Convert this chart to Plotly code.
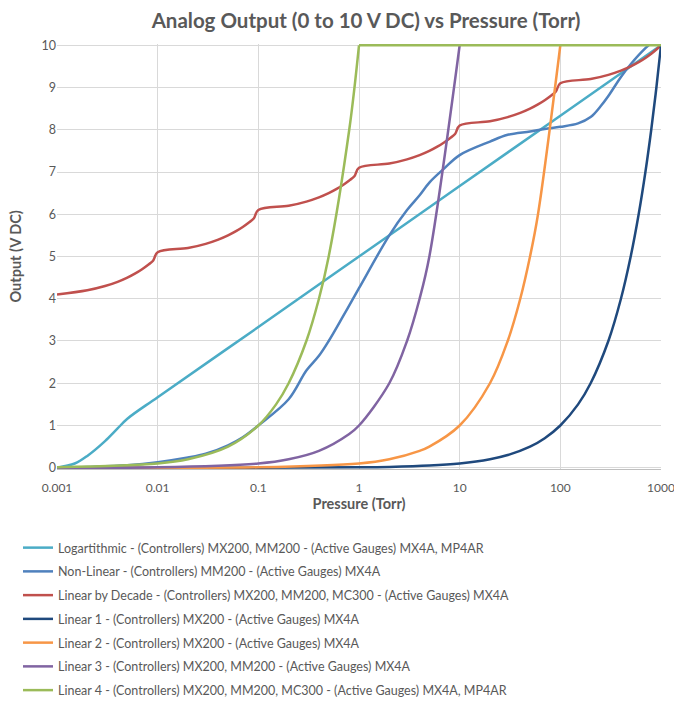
import plotly.graph_objects as go

# ---------------- data ----------------
log_p = [0.001, 0.0015, 0.002, 0.003, 0.004, 0.005, 0.01, 0.1, 1, 10, 100, 1000]
log_v = [0, 0.1, 0.28, 0.63, 0.93, 1.16, 1.67, 3.33, 5.0, 6.67, 8.33, 10]

nl_p = [0.001, 0.002, 0.005, 0.01, 0.02, 0.03, 0.05, 0.07, 0.1, 0.2, 0.3, 0.4, 0.5, 0.7,
        1, 2, 3, 4, 5, 7, 10, 20, 30, 50, 70, 100, 150, 200, 250, 300, 400, 500, 700, 1000]
nl_v = [0, 0.02, 0.06, 0.13, 0.24, 0.33, 0.53, 0.72, 1.0, 1.62, 2.3, 2.65, 3.0, 3.6,
        4.25, 5.5, 6.1, 6.45, 6.75, 7.08, 7.4, 7.72, 7.88, 7.96, 8.02, 8.07, 8.15, 8.3, 8.55,
        8.8, 9.25, 9.55, 9.93, 10.25]

lbd_p = [0.001, 0.002, 0.003, 0.004, 0.005, 0.006, 0.007, 0.008, 0.009,
         0.01, 0.02, 0.03, 0.04, 0.05, 0.06, 0.07, 0.08, 0.09,
         0.1, 0.2, 0.3, 0.4, 0.5, 0.6, 0.7, 0.8, 0.9,
         1, 2, 3, 4, 5, 6, 7, 8, 9,
         10, 20, 30, 40, 50, 60, 70, 80, 90,
         100, 200, 300, 400, 500, 600, 700, 800, 900, 1000]
lbd_v = [4.1, 4.2, 4.3, 4.4, 4.5, 4.6, 4.7, 4.8, 4.9,
         5.1, 5.2, 5.3, 5.4, 5.5, 5.6, 5.7, 5.8, 5.9,
         6.1, 6.2, 6.3, 6.4, 6.5, 6.6, 6.7, 6.8, 6.9,
         7.1, 7.2, 7.3, 7.4, 7.5, 7.6, 7.7, 7.8, 7.9,
         8.1, 8.2, 8.3, 8.4, 8.5, 8.6, 8.7, 8.8, 8.9,
         9.1, 9.2, 9.3, 9.4, 9.5, 9.6, 9.7, 9.8, 9.9, 10]

l1_p = [0.001, 0.01, 0.1, 1, 2, 5, 10, 20, 30, 50, 70, 100, 150, 200, 300, 400, 500,
        600, 700, 800, 900, 1000]
l1_v = [0.00001, 0.0001, 0.001, 0.01, 0.02, 0.05, 0.1, 0.2, 0.3, 0.5, 0.7, 1.0, 1.5, 2, 3, 4, 5,
        6, 7, 8, 9, 10]

l2_p = [0.001, 0.01, 0.1, 1, 2, 4, 5, 10, 20, 30, 40, 50, 60, 100]
l2_v = [0.0001, 0.001, 0.01, 0.1, 0.2, 0.4, 0.5, 1, 2, 3, 4, 5, 6, 10]

l3_p = [0.001, 0.01, 0.1, 0.2, 0.4, 0.8, 1, 2, 3, 4, 5, 10]
l3_v = [0.001, 0.01, 0.1, 0.2, 0.4, 0.8, 1, 2, 3, 4, 5, 10]

l4_p = [0.001, 0.01, 0.02, 0.05, 0.1, 0.15, 0.2, 0.3, 0.4, 0.5, 0.8, 1]
l4_v = [0.01, 0.1, 0.2, 0.5, 1, 1.5, 2, 3, 4, 5, 8, 10]
l4_flat_p = [1, 10, 100, 1000]
l4_flat_v = [10, 10, 10, 10]

names = [
    "Logartithmic - (Controllers) MX200, MM200 - (Active Gauges) MX4A, MP4AR",
    "Non-Linear - (Controllers) MM200 - (Active Gauges) MX4A",
    "Linear by Decade - (Controllers) MX200, MM200, MC300 - (Active Gauges) MX4A",
    "Linear 1 - (Controllers) MX200 - (Active Gauges) MX4A",
    "Linear 2 - (Controllers) MX200 - (Active Gauges) MX4A",
    "Linear 3 - (Controllers) MX200, MM200 - (Active Gauges) MX4A",
    "Linear 4 - (Controllers) MX200, MM200, MC300 - (Active Gauges) MX4A, MP4AR",
]
colors = ["#4BACC6", "#4F81BD", "#C0504D", "#1F497D", "#F79646", "#8064A2", "#9BBB59"]

x_ticks = [0.001, 0.01, 0.1, 1, 10, 100, 1000]
x_ticktext = ["0.001", "0.01", "0.1", "1", "10", "100", "1000"]

# ---------------- figure ----------------
FONT = "Lato"
GREY = "#595959"
W, H = 674, 692   # page body has an 8px margin on each side

series = [(log_p, log_v), (nl_p, nl_v), (lbd_p, lbd_v), (l1_p, l1_v),
          (l2_p, l2_v), (l3_p, l3_v), (l4_p, l4_v)]

fig = go.Figure()
for i, ((xs, ys), name, col) in enumerate(zip(series, names, colors)):
    fig.add_trace(go.Scatter(
        x=xs, y=ys, mode="lines", name=name, legendgroup=f"g{i}",
        line=dict(color=col, width=2.5, shape="spline", smoothing=1.0),
    ))
fig.add_trace(go.Scatter(
    x=l4_flat_p, y=l4_flat_v, mode="lines", name=names[6], legendgroup="g6",
    showlegend=False, line=dict(color=colors[6], width=2.5),
))

fig.update_layout(
    width=W, height=H,
    margin=dict(l=49, r=21, t=36, b=231, autoexpand=False),
    paper_bgcolor="white", plot_bgcolor="white",
    font=dict(family=FONT, color=GREY, size=12),
    title=dict(text="<b>Analog Output (0 to 10 V DC) vs Pressure (Torr)</b>",
               font=dict(family=FONT, size=20.5, color=GREY),
               x=358 / W, xanchor="center", xref="container",
               y=1 - 12.5 / H, yanchor="middle", yref="container"),
    showlegend=True,
    legend=dict(
        xref="container", yref="container",
        x=10 / W, y=1 - 525 / H, xanchor="left", yanchor="top",
        font=dict(family=FONT, size=12.5, color=GREY),
        tracegroupgap=4.5, itemwidth=30, bgcolor="rgba(0,0,0,0)",
    ),
    annotations=[dict(
        text="<b>Output (V DC)</b>", textangle=-90,
        xref="paper", yref="paper", x=-42 / 604, y=0.5,
        xanchor="center", yanchor="middle", showarrow=False,
        font=dict(family=FONT, size=14.5, color=GREY),
    )],
)

fig.update_xaxes(
    type="log", range=[-3, 3],
    tickvals=x_ticks, ticktext=x_ticktext, ticklabeloverflow="allow",
    showgrid=True, gridcolor="#D9D9D9", gridwidth=1,
    showline=True, linecolor="#BFBFBF", linewidth=1,
    ticks="outside", ticklen=8, tickcolor="rgba(0,0,0,0)", zeroline=False,
    tickfont=dict(family=FONT, size=12, color=GREY),
    title=dict(text="<b>Pressure (Torr)</b>", font=dict(family=FONT, size=14.5, color=GREY),
               standoff=2),
)
fig.update_yaxes(
    range=[-0.03, 10.03], tickvals=list(range(0, 11)), ticklabeloverflow="allow",
    showgrid=True, gridcolor="#D9D9D9", gridwidth=1,
    showline=False, zeroline=False, ticks="",
    tickfont=dict(family=FONT, size=12.5, color=GREY),
)

fig.write_html("out.html")
